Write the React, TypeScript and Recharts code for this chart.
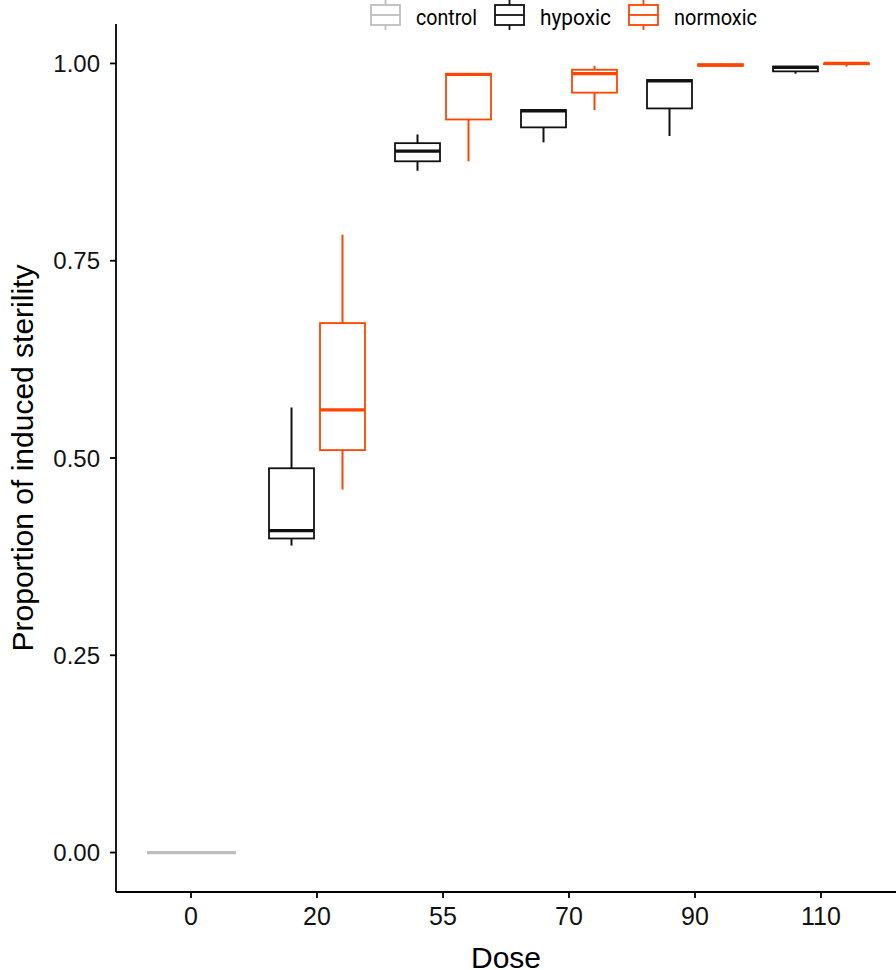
import React from "react";
import { ComposedChart, Bar, XAxis, YAxis, Legend } from "recharts";

const doses = ["0", "20", "55", "70", "90", "110"];
const yTicks = [0, 0.25, 0.5, 0.75, 1];

// five-number summaries per dose, null where the group was not run
const controlMin = [0, null, null, null, null, null];
const controlQ1 = [0, null, null, null, null, null];
const controlMed = [0, null, null, null, null, null];
const controlQ3 = [0, null, null, null, null, null];
const controlMax = [0, null, null, null, null, null];

const hypoxicMin = [null, 0.389, 0.864, 0.9, 0.908, 0.987];
const hypoxicQ1 = [null, 0.398, 0.876, 0.919, 0.943, 0.99];
const hypoxicMed = [null, 0.408, 0.889, 0.94, 0.978, 0.995];
const hypoxicQ3 = [null, 0.487, 0.899, 0.941, 0.979, 0.996];
const hypoxicMax = [null, 0.564, 0.91, 0.941, 0.979, 0.996];

const normoxicMin = [null, 0.46, 0.876, 0.941, 0.996, 0.996];
const normoxicQ1 = [null, 0.51, 0.929, 0.963, 0.997, 0.999];
const normoxicMed = [null, 0.561, 0.986, 0.987, 0.998, 1.0];
const normoxicQ3 = [null, 0.671, 0.987, 0.992, 0.999, 1.0];
const normoxicMax = [null, 0.783, 0.988, 0.997, 1.0, 1.0];

const GREY = "#BEBEBE";
const BLACK = "#111111";
const ORANGE = "#FF4500";
const AXIS_FONT = "'Liberation Sans', Arial, sans-serif";

type Stat = { min: number; q1: number; med: number; q3: number; max: number };

const summary = (
  mins: (number | null)[],
  q1s: (number | null)[],
  meds: (number | null)[],
  q3s: (number | null)[],
  maxs: (number | null)[],
  i: number
): Stat | null =>
  mins[i] == null
    ? null
    : {
        min: mins[i] as number,
        q1: q1s[i] as number,
        med: meds[i] as number,
        q3: q3s[i] as number,
        max: maxs[i] as number,
      };

const rows = doses.map((dose, i) => ({
  dose,
  control: summary(controlMin, controlQ1, controlMed, controlQ3, controlMax, i),
  hypoxic: summary(hypoxicMin, hypoxicQ1, hypoxicMed, hypoxicQ3, hypoxicMax, i),
  normoxic: summary(normoxicMin, normoxicQ1, normoxicMed, normoxicQ3, normoxicMax, i),
}));

const range = (key: "control" | "hypoxic" | "normoxic") => (row: any) =>
  row[key] ? [row[key].min, row[key].max] : null;

// draws a ggplot-style box from the range bar the library positioned (min..max)
const boxShape = (key: string, color: string) => (props: any) => {
  const { x, y, width, height, payload } = props;
  const s: Stat | null = payload?.[key];
  if (!s || x == null) return null;
  const top = Math.min(y, y + height);
  const h = Math.abs(height);
  const span = s.max - s.min;
  const py = (v: number) => (span > 0 ? top + ((s.max - v) / span) * h : top);
  const cx = x + width / 2;
  return (
    <g>
      <line x1={cx} x2={cx} y1={py(s.max)} y2={py(s.q3)} stroke={color} strokeWidth={2} />
      <line x1={cx} x2={cx} y1={py(s.q1)} y2={py(s.min)} stroke={color} strokeWidth={2} />
      <rect
        x={x}
        y={py(s.q3)}
        width={width}
        height={Math.max(py(s.q1) - py(s.q3), 0)}
        fill="#fff"
        stroke={color}
        strokeWidth={1.8}
      />
      <line x1={x} x2={x + width} y1={py(s.med)} y2={py(s.med)} stroke={color} strokeWidth={3.2} />
    </g>
  );
};

const legendTextWidth: Record<string, number> = { control: 61, hypoxic: 71, normoxic: 83 };

const renderLegend = (props: any) => {
  const items = props.payload || [];
  let cursor = 371;
  return (
    <svg width={896} height={34} style={{ display: "block" }}>
      {items.map((item: any) => {
        const ix = cursor;
        const tx = ix + 29 + 16;
        const tw = legendTextWidth[item.value] ?? 70;
        cursor = tx + tw + 18;
        const c = item.color;
        return (
          <g key={item.value}>
            <line x1={ix + 14.5} x2={ix + 14.5} y1={-2} y2={5} stroke={c} strokeWidth={1.8} />
            <line x1={ix + 14.5} x2={ix + 14.5} y1={25} y2={30} stroke={c} strokeWidth={1.8} />
            <rect x={ix} y={5} width={29} height={20} fill="#fff" stroke={c} strokeWidth={1.8} />
            <line x1={ix} x2={ix + 29} y1={15} y2={15} stroke={c} strokeWidth={1.8} />
            <text
              x={tx}
              y={25}
              fontSize={22}
              fontFamily="Roboto, sans-serif"
              fill="#000"
              textLength={tw}
              lengthAdjust="spacingAndGlyphs"
            >
              {item.value}
            </text>
          </g>
        );
      })}
    </svg>
  );
};

export default function App() {
  return (
    <div style={{ position: "absolute", left: 0, top: 0, width: 896, height: 970, background: "#fff" }}>
      <ComposedChart
        width={896}
        height={970}
        data={rows}
        margin={{ top: 24, right: 0, bottom: 38, left: 0 }}
        barGap={6}
      >
        <XAxis
          dataKey="dose"
          type="category"
          height={40}
          padding={{ left: 12, right: 12 }}
          axisLine={{ stroke: "#000", strokeWidth: 1.8 }}
          tickLine={{ stroke: "#000", strokeWidth: 1.8 }}
          tickSize={6}
          tickMargin={9}
          tick={{ fill: BLACK, fontSize: 25, fontFamily: AXIS_FONT }}
          label={{
            content: (p: any) => {
              const vb = p.viewBox;
              return (
                <text
                  x={vb.x + vb.width / 2}
                  y={968}
                  textAnchor="middle"
                  fontSize={30}
                  fontFamily={AXIS_FONT}
                  fill="#000"
                >
                  Dose
                </text>
              );
            },
          }}
        />
        <XAxis xAxisId="ctrl" dataKey="dose" type="category" hide padding={{ left: 12, right: 12 }} />
        <YAxis
          type="number"
          width={116}
          domain={[-0.05, 1.05]}
          ticks={yTicks}
          allowDataOverflow
          tickFormatter={(v: number) => v.toFixed(2)}
          axisLine={{ stroke: "#000", strokeWidth: 1.8 }}
          tickLine={{ stroke: "#000", strokeWidth: 1.8 }}
          tickSize={6}
          tickMargin={10}
          tick={{ fill: BLACK, fontSize: 24, fontFamily: AXIS_FONT }}
          label={{
            content: (p: any) => {
              const vb = p.viewBox;
              const cy = vb.y + vb.height / 2;
              return (
                <text
                  x={33}
                  y={cy}
                  transform={`rotate(-90, 33, ${cy})`}
                  textAnchor="middle"
                  fontSize={30}
                  fontFamily={AXIS_FONT}
                  fill="#000"
                >
                  Proportion of induced sterility
                </text>
              );
            },
          }}
        />
        <Legend
          verticalAlign="middle"
          align="center"
          layout="horizontal"
          content={renderLegend}
          wrapperStyle={{ top: 0, left: 0, width: 896, height: 34 }}
        />
        <Bar
          name="control"
          xAxisId="ctrl"
          dataKey={range("control")}
          barSize={89}
          fill={GREY}
          shape={boxShape("control", GREY)}
          isAnimationActive={false}
        />
        <Bar
          name="hypoxic"
          dataKey={range("hypoxic")}
          barSize={45}
          fill={BLACK}
          shape={boxShape("hypoxic", BLACK)}
          isAnimationActive={false}
        />
        <Bar
          name="normoxic"
          dataKey={range("normoxic")}
          barSize={45}
          fill={ORANGE}
          shape={boxShape("normoxic", ORANGE)}
          isAnimationActive={false}
        />
      </ComposedChart>
    </div>
  );
}
